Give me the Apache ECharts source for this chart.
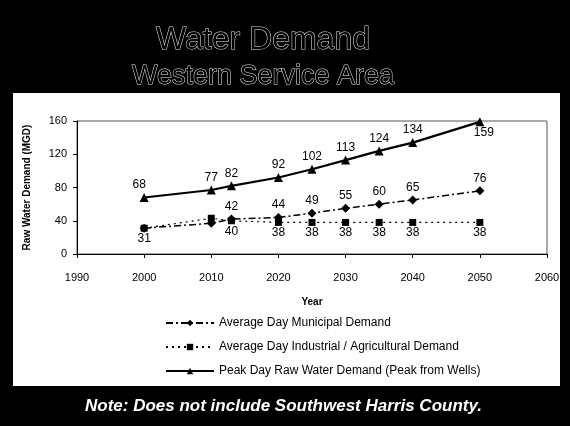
<!DOCTYPE html>
<html>
<head>
<meta charset="utf-8">
<script src="https://cdn.jsdelivr.net/npm/echarts@6/dist/echarts.min.js"></script>
<style>
  html, body { margin: 0; padding: 0; background: #000; }
  #main { width: 570px; height: 426px; }
</style>
</head>
<body>
<div id="main"></div>
<script>
// 年份
const years = [2000, 2010, 2013, 2020, 2025, 2030, 2035, 2040, 2050];
// 三条曲线
const municipal = [31, 37, 42, 44, 49, 55, 60, 65, 76];
const industrial = [31, 43, 40, 38, 38, 38, 38, 38, 38];
const peak = [68, 77, 82, 92, 102, 113, 124, 134, 159];
// 不显示标签的点
const municipalNoLabel = [0, 1];
const industrialNoLabel = [1];

const seriesNames = [
  "Average Day Municipal Demand",
  "Average Day Industrial / Agricultural Demand",
  "Peak Day Raw Water Demand (Peak from Wells)",
];

const font = "Liberation Sans";

// 组合数据
const toData = (vals, hidden) =>
  vals.map((v, i) => {
    const item = { value: [years[i], v] };
    if (hidden && hidden.indexOf(i) > -1) item.label = { show: false };
    return item;
  });

var myChart = echarts.init(document.getElementById("main"));

var option = {
  backgroundColor: "#000",
  animation: false,
  title: [
    {
      text: "Water Demand",
      left: 258,
      top: 19,
      textAlign: "center",
      textStyle: {
        fontFamily: font,
        fontSize: 32,
        fontWeight: "normal",
        color: "#000",
        textBorderColor: "#e2e2e2",
        textBorderWidth: 1,
      },
    },
    {
      text: "Western Service Area",
      left: 258,
      top: 58,
      textAlign: "center",
      textStyle: {
        fontFamily: font,
        fontSize: 27,
        fontWeight: "normal",
        color: "#000",
        textBorderColor: "#e2e2e2",
        textBorderWidth: 1,
      },
    },
  ],
  graphic: [
    {
      type: "rect",
      z: -10,
      shape: { x: 13, y: 93, width: 547, height: 293 },
      style: { fill: "#fff" },
    },
    {
      type: "text",
      left: 85,
      top: 398,
      style: {
        text: "Note: Does not include Southwest Harris County.",
        fill: "#fff",
        font: "italic bold 17px " + font,
      },
    },
  ],
  legend: {
    orient: "vertical",
    left: 160,
    top: 312,
    itemWidth: 48,
    itemHeight: 8,
    itemGap: 12,
    textStyle: { fontFamily: font, fontSize: 12, color: "#000" },
    data: seriesNames,
  },
  grid: {
    left: 77,
    right: 23,
    top: 121,
    bottom: 172,
    show: true,
    borderColor: "#555",
    borderWidth: 1,
    backgroundColor: "transparent",
  },
  xAxis: {
    type: "value",
    min: 1990,
    max: 2060,
    interval: 10,
    name: "Year",
    nameLocation: "middle",
    nameGap: 43,
    nameTextStyle: { fontFamily: font, fontSize: 10, fontWeight: "bold", color: "#000" },
    axisLine: { lineStyle: { color: "#000", width: 1 } },
    axisTick: { show: true, length: 4, lineStyle: { color: "#000" } },
    axisLabel: {
      fontFamily: font,
      fontSize: 11,
      color: "#000",
      margin: 18,
      formatter: (v) => String(v),
    },
    splitLine: { show: false },
  },
  yAxis: {
    type: "value",
    min: 0,
    max: 160,
    interval: 40,
    name: "Raw Water Demand (MGD)",
    nameLocation: "middle",
    nameGap: 45,
    nameTextStyle: { fontFamily: font, fontSize: 10, fontWeight: "bold", color: "#000" },
    axisLine: { show: true, lineStyle: { color: "#000", width: 1 } },
    axisTick: { show: true, length: 4, lineStyle: { color: "#000" } },
    axisLabel: { fontFamily: font, fontSize: 11, color: "#000", margin: 10 },
    splitLine: { show: false },
  },
  series: [
    {
      name: seriesNames[0],
      type: "line",
      symbol: "diamond",
      symbolSize: 9,
      itemStyle: { color: "#000" },
      lineStyle: { color: "#000", width: 1.5, type: [7, 3, 2, 3] },
      label: {
        show: true,
        position: "top",
        distance: 2,
        fontFamily: font,
        fontSize: 12,
        color: "#000",
      },
      data: toData(municipal, municipalNoLabel),
    },
    {
      name: seriesNames[1],
      type: "line",
      symbol: "rect",
      symbolSize: 7,
      itemStyle: { color: "#000" },
      lineStyle: { color: "#000", width: 1.2, type: [2, 4] },
      label: {
        show: true,
        position: "bottom",
        distance: 1,
        fontFamily: font,
        fontSize: 12,
        color: "#000",
      },
      data: toData(industrial, industrialNoLabel),
    },
    {
      name: seriesNames[2],
      type: "line",
      symbol: "triangle",
      symbolSize: 9,
      itemStyle: { color: "#000" },
      lineStyle: { color: "#000", width: 2.2 },
      label: {
        show: true,
        position: "top",
        distance: 2,
        fontFamily: font,
        fontSize: 12,
        color: "#000",
      },
      data: peak.map((v, i) => {
        const item = { value: [years[i], v] };
        if (i === peak.length - 1) item.label = { position: "bottom", offset: [4, -2] };
        if (i === 0) item.label = { offset: [-5, 0] };
        return item;
      }),
    },
  ],
};

myChart.setOption(option);
</script>
</body>
</html>
